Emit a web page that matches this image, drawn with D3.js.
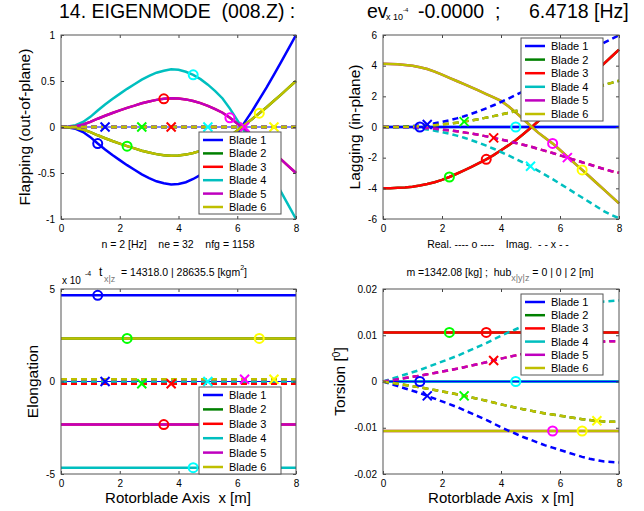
<!DOCTYPE html>
<html>
<head>
<meta charset="utf-8">
<script src="https://cdn.jsdelivr.net/npm/d3@7"></script>
<style>
  body { margin: 0; background: #fff; }
  svg text { font-family: "Liberation Sans", Arial, Helvetica, sans-serif; white-space: pre; }
</style>
</head>
<body>
<script>
// ---- data ----
var nodeX = d3.range(0, 8.001, 0.25);          // 33 nodes along the blade (ne = 32)
var bladeNames = ['Blade 1', 'Blade 2', 'Blade 3', 'Blade 4', 'Blade 5', 'Blade 6'];
var lineColors = ['#0000ff', '#008000', '#ff0000', '#00bfbf', '#bf00bf', '#bfbf00'];
var markColors = ['#0000ff', '#00ff00', '#ff0000', '#00ffff', '#ff00ff', '#ffff00'];
var circleNode = [5, 9, 14, 18, 23, 27];        // node of the "o" marker of each blade
var crossNode = [6, 11, 15, 20, 25, 29];        // node of the "x" marker of each blade
var xTicks = [0, 2, 4, 6, 8];

// flapping (out-of-plane), real parts
var flap1 = [0, -0.005, -0.02, -0.055, -0.11, -0.18, -0.245, -0.305, -0.36, -0.415, -0.465, -0.515, -0.555, -0.59, -0.612, -0.625, -0.62, -0.6, -0.565, -0.52, -0.46, -0.39, -0.31, -0.2, -0.075, 0.05, 0.17, 0.3, 0.43, 0.57, 0.71, 0.855, 1.0];
var flap4 = [0, 0.005, 0.02, 0.055, 0.11, 0.18, 0.245, 0.305, 0.36, 0.415, 0.465, 0.515, 0.555, 0.59, 0.612, 0.628, 0.622, 0.6, 0.567, 0.52, 0.46, 0.39, 0.31, 0.2, 0.075, -0.05, -0.17, -0.3, -0.43, -0.57, -0.71, -0.855, -1.0];
var flap5 = [0, 0.003, 0.01, 0.028, 0.055, 0.09, 0.122, 0.152, 0.18, 0.208, 0.232, 0.258, 0.278, 0.295, 0.306, 0.312, 0.31, 0.3, 0.282, 0.26, 0.23, 0.195, 0.155, 0.1, 0.038, -0.025, -0.085, -0.15, -0.215, -0.285, -0.355, -0.428, -0.5];
var flap6 = [0, -0.003, -0.01, -0.028, -0.055, -0.09, -0.122, -0.152, -0.18, -0.208, -0.232, -0.258, -0.278, -0.295, -0.306, -0.312, -0.31, -0.3, -0.282, -0.26, -0.23, -0.195, -0.155, -0.1, -0.038, 0.025, 0.085, 0.15, 0.215, 0.285, 0.355, 0.428, 0.5];
var flapRe = [flap1, flap6, flap5, flap4, flap5, flap6];
var flapIm = [0, 0, 0, 0, 0, 0];

// lagging (in-plane)
var lag3 = [-4.0, -3.99, -3.97, -3.94, -3.89, -3.82, -3.72, -3.6, -3.45, -3.26, -3.05, -2.83, -2.6, -2.36, -2.11, -1.83, -1.52, -1.2, -0.86, -0.47, -0.07, 0.36, 0.8, 1.24, 1.68, 2.1, 2.5, 2.9, 3.3, 3.7, 4.15, 4.6, 5.05];
var lag6 = [4.12, 4.11, 4.09, 4.05, 3.99, 3.9, 3.78, 3.61, 3.41, 3.21, 3.0, 2.79, 2.58, 2.37, 2.15, 1.93, 1.7, 1.35, 0.95, 0.52, 0.08, -0.35, -0.72, -1.07, -1.5, -1.93, -2.37, -2.8, -3.23, -3.67, -4.1, -4.54, -4.98];
var lagIm1 = [0, 0, 0.01, 0.03, 0.06, 0.1, 0.16, 0.24, 0.33, 0.44, 0.56, 0.7, 0.86, 1.03, 1.22, 1.42, 1.63, 1.85, 2.08, 2.32, 2.56, 2.84, 3.12, 3.4, 3.7, 4.0, 4.3, 4.6, 4.9, 5.2, 5.5, 5.75, 5.98];
var lagIm4 = [0, 0, -0.01, -0.03, -0.06, -0.1, -0.16, -0.24, -0.33, -0.44, -0.56, -0.7, -0.86, -1.03, -1.22, -1.42, -1.63, -1.85, -2.08, -2.32, -2.56, -2.84, -3.12, -3.4, -3.7, -4.0, -4.3, -4.6, -4.9, -5.2, -5.5, -5.75, -5.95];
var lagIm6 = [0, 0, 0.005, 0.015, 0.03, 0.05, 0.08, 0.12, 0.165, 0.22, 0.28, 0.35, 0.43, 0.515, 0.61, 0.71, 0.815, 0.925, 1.04, 1.16, 1.28, 1.42, 1.56, 1.7, 1.85, 2.0, 2.15, 2.3, 2.45, 2.6, 2.75, 2.88, 3.02];
var lagIm5 = [0, 0, -0.005, -0.015, -0.03, -0.05, -0.08, -0.12, -0.165, -0.22, -0.28, -0.35, -0.43, -0.515, -0.61, -0.71, -0.815, -0.925, -1.04, -1.16, -1.28, -1.42, -1.56, -1.7, -1.85, -2.0, -2.15, -2.3, -2.45, -2.6, -2.75, -2.88, -2.98];
var lagRe = [0, lag3, lag3, 0, lag6, lag6];
var lagIm = [lagIm1, lagIm6, lagIm5, lagIm4, lagIm5, lagIm6];

// elongation (x 10^-4), constant along the blade
var elongRe = [4.66, 2.33, -2.33, -4.66, -2.33, 2.33];
var elongIm = [0, -0.12, -0.12, 0, 0.12, 0.12];

// torsion [deg]
var torRe = [0, 0.0106, 0.0106, 0, -0.0107, -0.0107];
var tor1 = [0, -0.0005, -0.001, -0.0015, -0.002, -0.0025, -0.0031, -0.0037, -0.0043, -0.0049, -0.0055, -0.0062, -0.0069, -0.0076, -0.0083, -0.0091, -0.0099, -0.0106, -0.0113, -0.012, -0.0126, -0.0132, -0.0138, -0.0143, -0.0148, -0.0153, -0.0158, -0.0163, -0.0167, -0.017, -0.0173, -0.0174, -0.0175];
var tor4 = [0, 0.0005, 0.001, 0.0015, 0.002, 0.0025, 0.0031, 0.0037, 0.0043, 0.0049, 0.0055, 0.0062, 0.0069, 0.0076, 0.0083, 0.0091, 0.0099, 0.0106, 0.0113, 0.012, 0.0126, 0.0132, 0.0138, 0.0143, 0.0148, 0.0153, 0.0158, 0.0163, 0.0167, 0.017, 0.0173, 0.0174, 0.0175];
var tor6 = [0, -0.00025, -0.0005, -0.00075, -0.001, -0.00125, -0.00155, -0.00185, -0.00215, -0.00245, -0.00275, -0.0031, -0.00345, -0.0038, -0.00415, -0.00455, -0.00495, -0.0053, -0.00565, -0.006, -0.0063, -0.0066, -0.0069, -0.00715, -0.0074, -0.00765, -0.0079, -0.00815, -0.00835, -0.0085, -0.00865, -0.0087, -0.00875];
var tor5 = [0, 0.00025, 0.0005, 0.00075, 0.001, 0.00125, 0.00155, 0.00185, 0.00215, 0.00245, 0.00275, 0.0031, 0.00345, 0.0038, 0.00415, 0.00455, 0.00495, 0.0053, 0.00565, 0.006, 0.0063, 0.0066, 0.0069, 0.00715, 0.0074, 0.00765, 0.0079, 0.00815, 0.00835, 0.0085, 0.00865, 0.0087, 0.00875];
var torIm = [tor1, tor6, tor5, tor4, tor5, tor6];

// ---- drawing ----
var svg = d3.select('body').append('svg')
  .attr('width', 644)
  .attr('height', 511);

var valueAt = function(s, i){
  return typeof s === 'number' ? s : s[i];
};

var drawPanel = function(cfg){
  var g = svg.append('g');
  var x = d3.scaleLinear().domain([0, 8]).range([cfg.left, cfg.left + cfg.width]);
  var y = d3.scaleLinear().domain(cfg.yDomain).range([cfg.top + cfg.height, cfg.top]);
  var line = d3.line()
    .x(function(d){ return x(d[0]); })
    .y(function(d){ return y(d[1]); });
  var pts = function(s){
    return nodeX.map(function(xv, i){ return [xv, valueAt(s, i)]; });
  };
  var zeroLine = function(){
    g.append('line')
      .attr('x1', x(0)).attr('x2', x(8))
      .attr('y1', y(0)).attr('y2', y(0))
      .attr('stroke', '#0000ff').attr('stroke-width', 1);
  };

  g.append('rect')
    .attr('x', cfg.left).attr('y', cfg.top)
    .attr('width', cfg.width).attr('height', cfg.height)
    .attr('fill', '#fff');

  // thin reference line at zero
  zeroLine();

  // real parts: solid
  cfg.realOrder.forEach(function(b){
    g.append('path')
      .attr('d', line(pts(cfg.re[b])))
      .attr('fill', 'none')
      .attr('stroke', lineColors[b])
      .attr('stroke-width', 2.5);
  });
  if(cfg.zeroOnTop) zeroLine();

  // imaginary parts: dashed
  d3.range(6).forEach(function(b){
    g.append('path')
      .attr('d', line(pts(cfg.im[b])))
      .attr('fill', 'none')
      .attr('stroke', lineColors[b])
      .attr('stroke-width', 2.5)
      .attr('stroke-dasharray', '6,4');
  });

  // markers
  d3.range(6).forEach(function(b){
    var ci = circleNode[b], xi = crossNode[b];
    g.append('circle')
      .attr('cx', x(nodeX[ci])).attr('cy', y(valueAt(cfg.re[b], ci)))
      .attr('r', 4.5)
      .attr('fill', 'none')
      .attr('stroke', markColors[b])
      .attr('stroke-width', 2);
    var cx = x(nodeX[xi]), cy = y(valueAt(cfg.im[b], xi)), s = 4.5;
    g.append('path')
      .attr('d', 'M' + (cx - s) + ',' + (cy - s) + 'L' + (cx + s) + ',' + (cy + s) +
                 'M' + (cx - s) + ',' + (cy + s) + 'L' + (cx + s) + ',' + (cy - s))
      .attr('stroke', markColors[b])
      .attr('stroke-width', 2);
  });

  // axes with inward ticks on all four sides
  var fmt = function(d){ return String(d); };
  var axes = [
    [d3.axisBottom(x).tickValues(xTicks).tickFormat(fmt), 'translate(0,' + (cfg.top + cfg.height) + ')'],
    [d3.axisTop(x).tickValues(xTicks).tickFormat(''), 'translate(0,' + cfg.top + ')'],
    [d3.axisLeft(y).tickValues(cfg.yTicks).tickFormat(fmt), 'translate(' + cfg.left + ',0)'],
    [d3.axisRight(y).tickValues(cfg.yTicks).tickFormat(''), 'translate(' + (cfg.left + cfg.width) + ',0)']
  ];
  axes.forEach(function(a){
    var ag = g.append('g')
      .attr('transform', a[1])
      .call(a[0].tickSizeInner(-3).tickSizeOuter(0).tickPadding(6));
    ag.select('.domain').remove();
    ag.selectAll('line').attr('stroke', '#444');
    ag.selectAll('text')
      .attr('fill', '#000')
      .style('font-size', '10px')
      .style('font-family', '"Liberation Sans", Arial, sans-serif');
  });
  g.append('rect')
    .attr('x', cfg.left).attr('y', cfg.top)
    .attr('width', cfg.width).attr('height', cfg.height)
    .attr('fill', 'none')
    .attr('stroke', '#555');

  // y label
  g.append('text')
    .attr('transform', 'translate(' + cfg.yLabelX + ',' + (cfg.top + cfg.height / 2) + ') rotate(-90)')
    .attr('text-anchor', 'middle')
    .style('font-size', '15.5px')
    .html(cfg.yLabel);

  // legend
  var lg = g.append('g').attr('transform', 'translate(' + cfg.legend[0] + ',' + cfg.legend[1] + ')');
  lg.append('rect')
    .attr('width', 82).attr('height', cfg.legend[2])
    .attr('fill', '#fff')
    .attr('stroke', '#555');
  var rowH = (cfg.legend[2] - 15) / 5;
  bladeNames.forEach(function(name, b){
    var ry = 8 + b * rowH;
    lg.append('line')
      .attr('x1', 4).attr('x2', 24)
      .attr('y1', ry).attr('y2', ry)
      .attr('stroke', lineColors[b])
      .attr('stroke-width', 2.5);
    lg.append('text')
      .attr('x', 30).attr('y', ry + 4)
      .style('font-size', '11px')
      .text(name);
  });
};

drawPanel({
  left: 61, top: 35, width: 235, height: 184,
  yDomain: [-1, 1], yTicks: [-1, -0.5, 0, 0.5, 1],
  re: flapRe, im: flapIm, realOrder: [0, 1, 2, 3, 4, 5],
  yLabel: 'Flapping (out-of-plane)', yLabelX: 30,
  legend: [199, 132, 82]
});
drawPanel({
  left: 383, top: 35, width: 236, height: 184,
  yDomain: [-6, 6], yTicks: [-6, -4, -2, 0, 2, 4, 6],
  re: lagRe, im: lagIm, realOrder: [3, 0, 1, 2, 4, 5],
  yLabel: 'Lagging (in-plane)', yLabelX: 360,
  legend: [521, 38, 83]
});
drawPanel({
  left: 61, top: 289, width: 235, height: 185,
  yDomain: [-5, 5], yTicks: [-5, 0, 5],
  re: elongRe, im: elongIm, realOrder: [0, 1, 2, 3, 4, 5],
  yLabel: 'Elongation', yLabelX: 38,
  legend: [199, 387, 87]
});
drawPanel({
  left: 383, top: 289, width: 236, height: 185,
  yDomain: [-0.02, 0.02], yTicks: [-0.02, -0.01, 0, 0.01, 0.02],
  re: torRe, im: torIm, realOrder: [0, 1, 2, 3, 4, 5], zeroOnTop: true,
  yLabel: 'Torsion [<tspan baseline-shift="super" font-size="10px">0</tspan>]', yLabelX: 345,
  legend: [521, 294, 81]
});

// ---- titles and annotations ----
var addText = function(x, y, size, str, anchor){
  return svg.append('text')
    .attr('x', x).attr('y', y)
    .attr('text-anchor', anchor || 'start')
    .style('font-size', size + 'px')
    .text(str);
};

addText(59, 18, 19.5, '14. EIGENMODE  (008.Z) :');
addText(367, 18, 19.5, 'ev');
addText(386, 20, 9, 'x 10');
addText(403, 12, 6, '-4');
addText(418, 18, 19.5, '-0.0000');
addText(495, 18, 19.5, ';');
addText(529, 18, 19.5, '6.4718 [Hz]');

addText(178, 248, 10.5, 'n = 2 [Hz]    ne = 32    nfg = 1158', 'middle');
addText(498, 248, 10.5, 'Real. ---- o ----    Imag.  - - x - -', 'middle');

addText(62, 284, 10, 'x 10');
addText(85, 276, 7, '-4');
addText(99, 276, 12, 't');
addText(104, 282, 9, 'x|z').attr('fill', '#777');
var inertia = addText(121, 276, 10.5, '= 14318.0 | 28635.5 [kgm');
inertia.append('tspan').attr('dy', -6).style('font-size', '7px').text('2');
inertia.append('tspan').attr('dy', 6).text(']');

var hub = svg.append('text')
  .attr('x', 500).attr('y', 276)
  .attr('text-anchor', 'middle')
  .style('font-size', '10.5px');
hub.append('tspan').text('m =1342.08 [kg] ;  hub');
hub.append('tspan').attr('dy', 5).attr('fill', '#777').style('font-size', '9px').text('x|y|z');
hub.append('tspan').attr('dy', -5).text(' = 0 | 0 | 2 [m]');

addText(178, 503, 15, 'Rotorblade Axis  x [m]', 'middle');
addText(501, 503, 15, 'Rotorblade Axis  x [m]', 'middle');
</script>
</body>
</html>
